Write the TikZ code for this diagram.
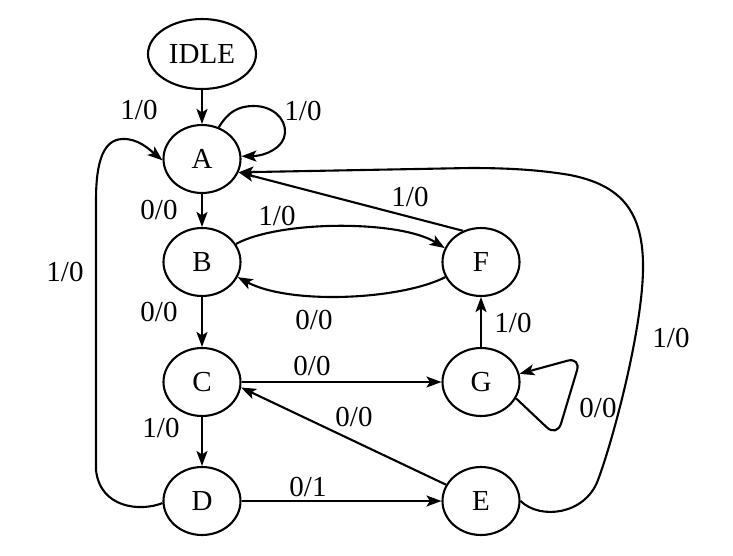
\documentclass[tikz,border=0pt]{standalone}
\usepackage{fontspec}
\setmainfont{Liberation Serif}
\usetikzlibrary{arrows.meta,shapes.geometric}
\begin{document}
\begin{tikzpicture}[x=1pt,y=-1pt,
  every node/.style={font=\fontsize{29}{32}\selectfont},
  state/.style={draw, ellipse, line width=2.1pt, minimum width=77pt, minimum height=68pt, inner sep=0pt},
  arr/.style={-{Stealth[length=15pt,width=11pt,inset=3.5pt]}, line width=2.1pt},
  lbl/.style={inner sep=0pt}]
\useasboundingbox (0,0) rectangle (733,555);

\node[state, minimum width=108pt, minimum height=70pt] (idle) at (202,54) {IDLE};
\node[state] (A) at (202,159) {A};
\node[state] (B) at (202,262) {B};
\node[state] (C) at (202,382) {C};
\node[state] (D) at (202,501) {D};
\node[state] (E) at (481,501) {E};
\node[state] (F) at (481,262) {F};
\node[state] (G) at (481,382) {G};

\draw[arr] (idle) -- (A);
\draw[arr] (A) -- (B);
\draw[arr] (B) -- (C);
\draw[arr] (C) -- (D);
\draw[arr] (C) -- (G);
\draw[arr] (D) -- (E);
\draw[arr] (G) -- (F);
\draw[arr] (E.155) -- (C.-8);
\draw[arr] (F.120) -- (A.-20);
\draw[arr] (B.28) .. controls (280,220) and (400,220) .. (F.159);
\draw[arr] (F.203) .. controls (400,300) and (290,305) .. (B.-23);
\draw[arr] (A.62) .. controls (228,112) and (238,106) .. (254,106)
  .. controls (272,106) and (286,118) .. (285,133)
  .. controls (284,148) and (265,156) .. (A.4);
\draw[arr, rounded corners=14pt] (G.-25) -- (557,437) -- (581,357) -- (G.12);
\draw[arr] (D.183) .. controls (140,512) and (100,508) .. (96,470) -- (96,200)
  .. controls (96,160) and (104,140) .. (122,139)
  .. controls (138,138) and (150,150) .. (A.182);
\draw[arr] (E.east) .. controls (540,520) and (585,515) .. (598,480)
  .. controls (614,437) and (642,330) .. (643,270)
  .. controls (644,210) and (620,185) .. (570,175)
  .. controls (540,170) and (510,168) .. (470,168) -- (A.-20);

\node[lbl] (l1) at (139,110) {1/0};
\node[lbl] (l2) at (303,111) {1/0};
\node[lbl] (l3) at (159,210) {0/0};
\node[lbl] (l4) at (159,312) {0/0};
\node[lbl] (l5) at (161,428) {1/0};
\node[lbl] (l6) at (65,272) {1/0};
\node[lbl] (l7) at (277,216) {1/0};
\node[lbl] (l8) at (314,320) {0/0};
\node[lbl] (l9) at (410,197) {1/0};
\node[lbl] (l10) at (513,323) {1/0};
\node[lbl] (l11) at (598,408) {0/0};
\node[lbl] (l12) at (312,366) {0/0};
\node[lbl] (l13) at (354,417) {0/0};
\node[lbl] (l14) at (308,487) {0/1};
\node[lbl] (l15) at (671,338) {1/0};
\end{tikzpicture}
\end{document}
